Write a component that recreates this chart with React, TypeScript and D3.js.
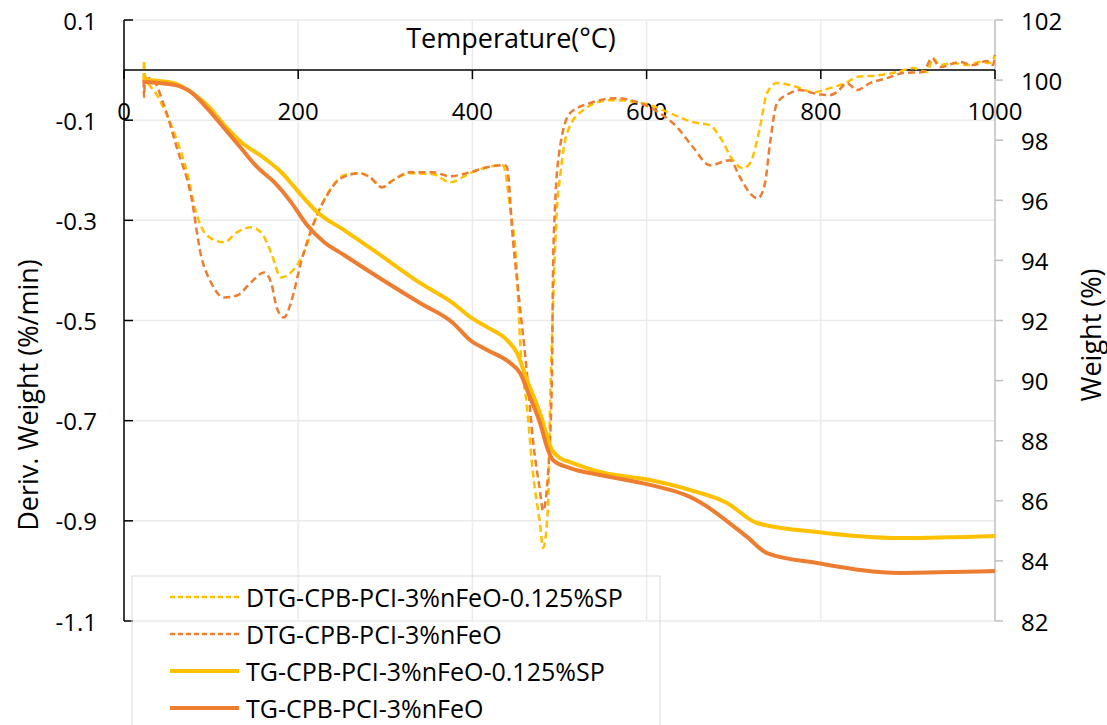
import React from "react";
import * as d3 from "d3";

// ---- Data ----
const T_DTG_SP = [22.5, 23, 24, 37.9, 57.4, 72.3, 82.7, 95.3, 114.8, 129.7, 145.8, 157.3, 168.8, 180.3, 191.7, 206.7, 221.6, 237.7, 252.6, 270.9, 282.4, 296.2, 308.8, 328.4, 354.8, 374.3, 397.2, 416.8, 435.1, 443.2, 451.2, 454.7, 462.7, 469.6, 477.6, 481.1, 486.8, 489.1, 492.5, 497.1, 500.6, 508.6, 527.0, 558.0, 595.9, 626.9, 653.3, 672.8, 684.3, 699.2, 710.7, 718.7, 730.2, 738.2, 749.7, 764.6, 776.1, 791.0, 810.6, 830.1, 841.6, 868.0, 887.5, 905.9, 921.9, 928.8, 936.8, 951.8, 967.9, 982.8, 994.3, 1000];
const V_DTG_SP = [-0.02, 0.02, -0.01, -0.05, -0.124, -0.204, -0.284, -0.33, -0.344, -0.324, -0.314, -0.324, -0.364, -0.414, -0.404, -0.364, -0.29, -0.236, -0.21, -0.206, -0.214, -0.234, -0.22, -0.206, -0.208, -0.224, -0.206, -0.194, -0.19, -0.274, -0.406, -0.54, -0.674, -0.806, -0.906, -0.954, -0.874, -0.674, -0.474, -0.274, -0.214, -0.126, -0.08, -0.06, -0.066, -0.086, -0.104, -0.11, -0.134, -0.18, -0.196, -0.186, -0.114, -0.046, -0.026, -0.03, -0.036, -0.044, -0.036, -0.024, -0.014, -0.01, -0.004, 0.004, -0.004, 0.024, 0.01, 0.014, 0.01, 0.016, 0.014, 0.03];

const T_DTG = [22.5, 23, 24, 31, 45.9, 60.8, 76.9, 88.4, 99.9, 114.8, 129.7, 145.8, 160.7, 168.8, 175.7, 183.7, 191.7, 203.2, 218.1, 233.1, 249.1, 270.9, 282.4, 296.2, 308.8, 328.4, 354.8, 374.3, 397.2, 416.8, 437.4, 439.7, 446.6, 454.7, 462.7, 469.6, 477.6, 481.1, 486.8, 491.4, 492.5, 494.8, 500.6, 512.1, 535.0, 566.0, 589.0, 615.4, 634.9, 653.3, 672.8, 695.8, 707.2, 718.7, 727.9, 735.9, 741.7, 749.7, 764.6, 776.1, 791.0, 810.6, 818.6, 830.1, 841.6, 856.5, 876.0, 894.4, 917.3, 927.7, 936.8, 959.8, 974.7, 990.8, 997.7, 1000];
const V_DTG = [-0.02, -0.054, -0.02, -0.016, -0.07, -0.156, -0.25, -0.37, -0.424, -0.454, -0.45, -0.424, -0.404, -0.424, -0.476, -0.494, -0.464, -0.384, -0.304, -0.25, -0.216, -0.206, -0.214, -0.234, -0.22, -0.204, -0.204, -0.212, -0.204, -0.194, -0.19, -0.194, -0.34, -0.474, -0.606, -0.74, -0.84, -0.88, -0.806, -0.606, -0.406, -0.274, -0.154, -0.086, -0.066, -0.056, -0.064, -0.086, -0.114, -0.154, -0.19, -0.18, -0.214, -0.246, -0.256, -0.226, -0.146, -0.066, -0.046, -0.04, -0.046, -0.05, -0.044, -0.026, -0.04, -0.026, -0.016, -0.006, -0.004, 0.024, 0.006, 0.016, 0.01, 0.018, 0.01, 0.03];

const T_TG_SP = [23.0, 57.4, 76.9, 95.3, 114.8, 134.3, 160.7, 180.3, 203.2, 221.6, 252.6, 285.9, 339.8, 377.7, 397.2, 416.8, 439.7, 451.2, 462.7, 477.6, 491.4, 500.6, 512.1, 546.5, 603.9, 649.8, 692.3, 726.7, 795.6, 890.9, 1000];
const W_TG_SP = [100.0, 99.9, 99.6, 99.17, 98.51, 97.94, 97.41, 96.94, 96.18, 95.61, 95.01, 94.35, 93.25, 92.58, 92.12, 91.78, 91.35, 90.92, 90.02, 88.92, 87.69, 87.42, 87.29, 86.96, 86.69, 86.36, 85.93, 85.26, 84.96, 84.76, 84.83];

const T_TG = [23.0, 57.4, 76.9, 95.3, 114.8, 134.3, 152.7, 172.2, 191.7, 210.1, 229.6, 252.6, 279.0, 339.8, 377.7, 397.2, 416.8, 443.2, 454.7, 466.1, 477.6, 486.8, 492.5, 512.1, 546.5, 603.9, 649.8, 715.3, 738.2, 795.6, 890.9, 1000];
const W_TG = [99.94, 99.84, 99.6, 99.07, 98.41, 97.74, 97.11, 96.61, 95.94, 95.18, 94.61, 94.18, 93.68, 92.58, 91.92, 91.35, 91.02, 90.59, 90.25, 89.45, 88.59, 87.69, 87.36, 87.09, 86.86, 86.53, 86.13, 84.8, 84.26, 83.93, 83.6, 83.66];

const X_TICKS = [0, 200, 400, 600, 800, 1000];
const L_TICKS = [0.1, -0.1, -0.3, -0.5, -0.7, -0.9, -1.1];
const R_TICKS = [82, 84, 86, 88, 90, 92, 94, 96, 98, 100, 102];

const LEGEND = [
  "DTG-CPB-PCI-3%nFeO-0.125%SP",
  "DTG-CPB-PCI-3%nFeO",
  "TG-CPB-PCI-3%nFeO-0.125%SP",
  "TG-CPB-PCI-3%nFeO",
];

const YELLOW = "#FFC000";
const ORANGE = "#ED7D31";
const FONT = "'Open Sans', 'Noto Sans', sans-serif";

export default function App() {
  const x = d3.scaleLinear().domain([0, 1000]).range([124, 995]);
  const yL = d3.scaleLinear().domain([-1.1, 0.1]).range([621, 20]);
  const yR = d3.scaleLinear().domain([82, 102]).range([621, 20]);

  const lineL = (ts: number[], vs: number[]) =>
    d3.line<number>().x((_, i) => x(ts[i])).y((v) => yL(v)).curve(d3.curveMonotoneX)(vs) || "";
  const lineR = (ts: number[], vs: number[]) =>
    d3.line<number>().x((_, i) => x(ts[i])).y((v) => yR(v)).curve(d3.curveMonotoneX)(vs) || "";

  const series = [
    { d: lineL(T_DTG_SP, V_DTG_SP), color: YELLOW, w: 2.5, dash: "7,4" },
    { d: lineL(T_DTG, V_DTG), color: ORANGE, w: 2.5, dash: "7,4" },
    { d: lineR(T_TG_SP, W_TG_SP), color: YELLOW, w: 4, dash: undefined },
    { d: lineR(T_TG, W_TG), color: ORANGE, w: 4, dash: undefined },
  ];

  const y0 = yL(0);
  const fs = 24;
  const lfs = 25;

  return (
    <svg width={1107} height={725} style={{ position: "absolute", left: 0, top: 0, background: "#fff" }} fontFamily={FONT}>
      <rect x={0} y={0} width={1107} height={725} fill="#fff" />
      {/* gridlines */}
      {L_TICKS.map((t) => (
        <line key={"gh" + t} x1={x(0)} x2={x(1000)} y1={yL(t)} y2={yL(t)} stroke="#ebebeb" strokeWidth={1.5} />
      ))}
      {X_TICKS.filter((t) => t > 0 && t < 1000).map((t) => (
        <line key={"gv" + t} x1={x(t)} x2={x(t)} y1={yL(0.1)} y2={yL(-1.1)} stroke="#ebebeb" strokeWidth={1.5} />
      ))}
      {/* right axis */}
      <line x1={x(1000)} x2={x(1000)} y1={yR(102)} y2={yR(82)} stroke="#bfbfbf" strokeWidth={1.5} />
      {R_TICKS.map((t) => (
        <g key={"rt" + t}>
          <line x1={x(1000)} x2={x(1000) + 8} y1={yR(t)} y2={yR(t)} stroke="#bfbfbf" strokeWidth={1.5} />
          <text x={1021} y={yR(t)} dominantBaseline="central" fontSize={fs} fill="#000">{t}</text>
        </g>
      ))}
      {/* left axis */}
      <line x1={x(0)} x2={x(0)} y1={yL(0.1)} y2={yL(-1.1)} stroke="#000" strokeWidth={1.5} />
      {L_TICKS.map((t) => (
        <g key={"lt" + t}>
          <line x1={x(0)} x2={x(0) + 9} y1={yL(t)} y2={yL(t)} stroke="#000" strokeWidth={1.5} />
          <text x={97} y={yL(t)} dominantBaseline="central" textAnchor="end" fontSize={fs} fill="#000">
            {d3.format(".1f")(t).replace("−", "-")}
          </text>
        </g>
      ))}
      {/* x axis at 0 */}
      <line x1={x(0)} x2={x(1000)} y1={y0} y2={y0} stroke="#000" strokeWidth={1.5} />
      {X_TICKS.map((t) => (
        <g key={"xt" + t}>
          <line x1={x(t)} x2={x(t)} y1={y0} y2={y0 + 9} stroke="#000" strokeWidth={1.5} />
          <text x={x(t)} y={y0 + 40} dominantBaseline="central" textAnchor="middle" fontSize={fs} fill="#000">{t}</text>
        </g>
      ))}
      {/* titles */}
      <text x={511} y={37} dominantBaseline="central" textAnchor="middle" fontSize={27} fill="#000">Temperature(°C)</text>
      <text transform="translate(27,395) rotate(-90)" dominantBaseline="central" textAnchor="middle" fontSize={27} fill="#000">Deriv. Weight (%/min)</text>
      <text transform="translate(1090,335) rotate(-90)" dominantBaseline="central" textAnchor="middle" fontSize={27} fill="#000">Weight (%)</text>
      {/* series */}
      {series.map((s, i) => (
        <path key={"s" + i} d={s.d} fill="none" stroke={s.color} strokeWidth={s.w} strokeDasharray={s.dash} strokeLinejoin="round" />
      ))}
      {/* legend */}
      <rect x={132} y={576} width={528} height={170} fill="none" stroke="#d9d9d9" strokeWidth={1} />
      {LEGEND.map((name, i) => {
        const s = series[i];
        const ly = 597 + i * 37;
        return (
          <g key={"lg" + i}>
            <line x1={170} x2={239} y1={ly} y2={ly} stroke={s.color} strokeWidth={s.w} strokeDasharray={s.dash ? "5,3" : undefined} />
            <text x={246} y={ly} dominantBaseline="central" fontSize={lfs} fill="#000">{name}</text>
          </g>
        );
      })}
    </svg>
  );
}
